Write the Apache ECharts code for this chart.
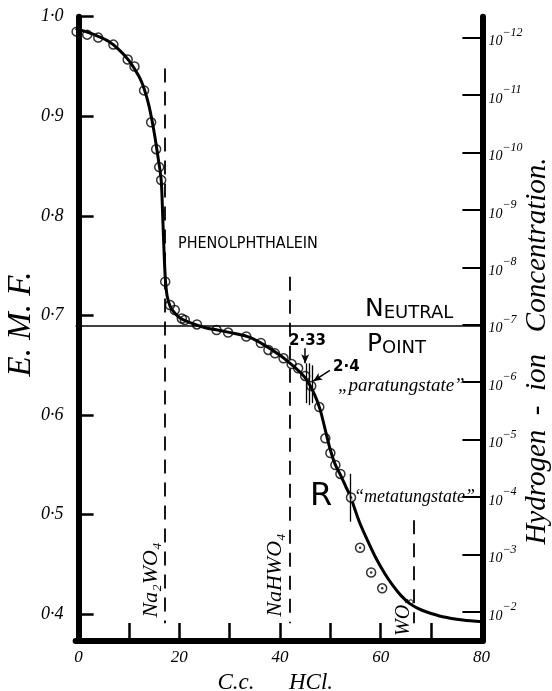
<!DOCTYPE html>
<html><head><meta charset="utf-8">
<script src="https://cdn.jsdelivr.net/npm/echarts@6/dist/echarts.min.js"></script>
<style>html,body{margin:0;padding:0;background:#fff}#c{width:552px;height:691px}</style>
</head><body><div id="c"></div>
<script>
// ---- data ----
const curveX = [-0.6, 2, 4, 6, 8, 10, 12, 13, 14, 15, 15.8, 16.4, 16.7, 17.0, 17.25, 17.6, 18.2, 19, 20, 22, 25, 28, 31, 34, 37, 40, 42, 44, 45.5, 47, 48, 49, 50, 51, 52, 53, 54, 55.75, 57.4, 59.1, 60.8, 62.4, 64, 65.7, 67.4, 69.0, 72.3, 76.3, 80.2];
const curveY = [0.988, 0.984, 0.980, 0.975, 0.967, 0.956, 0.940, 0.928, 0.910, 0.884, 0.858, 0.836, 0.800, 0.760, 0.735, 0.719, 0.709, 0.703, 0.698, 0.693, 0.688, 0.685, 0.682, 0.678, 0.670, 0.660, 0.652, 0.643, 0.634, 0.619, 0.605, 0.585, 0.565, 0.550, 0.540, 0.529, 0.518, 0.493, 0.474, 0.456, 0.441, 0.429, 0.419, 0.411, 0.406, 0.4026, 0.3976, 0.3943, 0.3926];
const obsX = [-0.4, 1.7, 3.9, 6.9, 9.75, 11.1, 13.0, 14.4, 15.4, 16.0, 16.4, 17.2, 18.15, 19.1, 20.5, 21.1, 23.5, 27.4, 29.7, 33.3, 36.2, 37.7, 39.0, 40.7, 42.3, 43.6, 45.0, 46.2, 47.8, 49.0, 50.0, 51.0, 52.0];
const obsY = [0.985, 0.982, 0.979, 0.972, 0.957, 0.950, 0.926, 0.894, 0.867, 0.849, 0.836, 0.734, 0.7105, 0.7055, 0.697, 0.6955, 0.691, 0.6854, 0.6829, 0.6789, 0.6724, 0.6654, 0.662, 0.657, 0.6513, 0.647, 0.6393, 0.6292, 0.6081, 0.5767, 0.5619, 0.5499, 0.5409];
const dotX = [54.1, 55.9, 58.1, 60.3];
const dotY = [0.5173, 0.4668, 0.442, 0.4261];
const xTickValues = [10, 20, 30, 40, 50, 60, 70];
const xLabelValues = [0, 20, 40, 60, 80];
const emfTicks = [0.4, 0.5, 0.6, 0.7, 0.8, 0.9, 1.0];
const hExponents = [2, 3, 4, 5, 6, 7, 8, 9, 10, 11, 12];
const dashedX = [17.2, 42.0, 66.5];
const dashedTop = [0.948, 0.739, 0.4945];
const dashedBottom = 0.391;
const neutralEMF = 0.690;
const markerX = [45.3, 45.9, 46.5, 53.9];
const markerTop = [0.652, 0.652, 0.650, 0.541];
const markerBottom = [0.612, 0.610, 0.612, 0.493];
const arrow233 = [[45.0, 0.667], [45.0, 0.652]];
const arrow24 = [[49.9, 0.645], [46.6, 0.634]];

// ---- build ----
const serifI = "italic 400 %spx 'Liberation Serif', 'DejaVu Serif', serif";
const fontI = n => serifI.replace('%s', n);
const zip = (a, b) => a.map((v, i) => [v, b[i]]);
const blk = '#000';

const markLines = [];
dashedX.forEach((x, i) => markLines.push([
  {coord: [x, dashedTop[i]], lineStyle: {type: [14, 9], width: 1.8, color: blk}},
  {coord: [x, dashedBottom]}
]));
markerX.forEach((x, i) => markLines.push([
  {coord: [x, markerTop[i]], lineStyle: {type: 'solid', width: 1.3, color: blk}},
  {coord: [x, markerBottom[i]]}
]));
[arrow233, arrow24].forEach(a => markLines.push([
  {coord: a[0], symbol: 'none', lineStyle: {type: 'solid', width: 1.5, color: blk}},
  {coord: a[1], symbol: 'arrow', symbolSize: [6, 9]}
]));

const chart = echarts.init(document.getElementById('c'), null, {renderer: 'canvas'});
chart.setOption({
  animation: false,
  backgroundColor: '#fff',
  grid: {left: 75.6, right: 69.6, top: 16.7, bottom: 50, containLabel: false},
  xAxis: {
    type: 'value', min: -0.6, max: 80.2,
    axisLine: {show: true, lineStyle: {color: blk, width: 6}},
    axisTick: {show: true, inside: true, length: 18, lineStyle: {color: blk, width: 2.5}, customValues: xTickValues},
    axisLabel: {show: true, customValues: xLabelValues, margin: 8, color: blk, fontStyle: 'italic', fontFamily: "'Liberation Serif', serif", fontSize: 17},
    splitLine: {show: false}
  },
  yAxis: [{
    type: 'value', min: 0.3732, max: 1.0,
    axisLine: {show: true, lineStyle: {color: blk, width: 6}},
    axisTick: {show: true, inside: true, length: 15, lineStyle: {color: blk, width: 2.5}, customValues: emfTicks},
    axisLabel: {show: true, customValues: emfTicks, margin: 12, color: blk, fontStyle: 'italic', fontFamily: "'Liberation Serif', serif", fontSize: 18,
      formatter: v => v.toFixed(1).replace('.', '\u00B7')},
    splitLine: {show: false}
  }, {
    type: 'value', position: 'right', min: 1.495, max: 12.362,
    axisLine: {show: true, lineStyle: {color: blk, width: 6}},
    axisTick: {show: true, inside: true, length: 20, lineStyle: {color: blk, width: 2}, customValues: hExponents},
    axisLabel: {show: true, customValues: hExponents, margin: 6, color: blk,
      formatter: v => '{b|10}{s|\u2212' + Math.round(v) + '}',
      rich: {
        b: {fontSize: 14, fontStyle: 'italic', fontFamily: "'Liberation Serif', serif", color: blk, lineHeight: 22, verticalAlign: 'bottom'},
        s: {fontSize: 12, fontStyle: 'italic', fontFamily: "'Liberation Serif', serif", color: blk, lineHeight: 22, verticalAlign: 'top'}
      }},
    splitLine: {show: false}
  }],
  series: [{
    type: 'line', name: 'curve', data: zip(curveX, curveY), smooth: 0.3,
    showSymbol: false, lineStyle: {color: blk, width: 3}, z: 3,
    markLine: {silent: true, symbol: ['none', 'none'], label: {show: false}, animation: false,
      lineStyle: {color: blk, width: 1.5, type: 'solid'},
      data: [[{coord: [-0.6, neutralEMF]}, {coord: [80.2, neutralEMF]}], ...markLines]}
  }, {
    type: 'scatter', name: 'observed', data: zip(obsX, obsY), symbol: 'circle', symbolSize: 9,
    itemStyle: {color: 'rgba(255,255,255,0)', borderColor: blk, borderWidth: 1.5}, z: 4
  }, {
    type: 'scatter', name: 'dotted', data: zip(dotX, dotY), symbol: 'circle', symbolSize: 9,
    itemStyle: {color: '#fff', borderColor: blk, borderWidth: 1.5}, z: 4
  }, {
    type: 'scatter', name: 'dotted-centre', data: zip(dotX, dotY), symbol: 'circle', symbolSize: 2.5,
    itemStyle: {color: blk}, z: 5
  }],
  graphic: [
    {type: 'text', x: 21, y: 324, rotation: Math.PI / 2, style: {text: 'E. M. F.', font: fontI(33), fill: blk, textAlign: 'center', textVerticalAlign: 'middle'}},
    {type: 'text', x: 537, y: 351, rotation: Math.PI / 2, style: {text: 'Hydrogen  -  ion   Concentration.', font: fontI(29), fill: blk, textAlign: 'center', textVerticalAlign: 'middle'}},
    {type: 'text', x: 236, y: 683, style: {text: 'C.c.', font: fontI(23), fill: blk, textAlign: 'center', textVerticalAlign: 'middle'}},
    {type: 'text', x: 311, y: 683, style: {text: 'HCl.', font: fontI(23), fill: blk, textAlign: 'center', textVerticalAlign: 'middle'}},
    {type: 'text', x: 178, y: 244, style: {text: 'PHENOLPHTHALEIN', font: "400 16px 'DejaVu Sans Condensed', 'DejaVu Sans', sans-serif", fill: blk, textAlign: 'left', textVerticalAlign: 'middle'}},
    {type: 'text', x: 365, y: 308, style: {text: '{a|N}{b|EUTRAL}', fill: blk, textAlign: 'left', textVerticalAlign: 'middle',
      rich: {a: {fontSize: 25, fontFamily: "'DejaVu Sans', sans-serif", verticalAlign: 'bottom', lineHeight: 28}, b: {fontSize: 18, fontFamily: "'DejaVu Sans', sans-serif", verticalAlign: 'bottom', lineHeight: 28}}}},
    {type: 'text', x: 367, y: 343, style: {text: '{a|P}{b|OINT}', fill: blk, textAlign: 'left', textVerticalAlign: 'middle',
      rich: {a: {fontSize: 25, fontFamily: "'DejaVu Sans', sans-serif", verticalAlign: 'bottom', lineHeight: 28}, b: {fontSize: 18, fontFamily: "'DejaVu Sans', sans-serif", verticalAlign: 'bottom', lineHeight: 28}}}},
    {type: 'text', x: 289, y: 341, style: {text: '2\u00B733', font: "bold 15px 'DejaVu Sans', sans-serif", fill: blk, textAlign: 'left', textVerticalAlign: 'middle'}},
    {type: 'text', x: 333, y: 367, style: {text: '2\u00B74', font: "bold 15px 'DejaVu Sans', sans-serif", fill: blk, textAlign: 'left', textVerticalAlign: 'middle'}},
    {type: 'text', x: 338, y: 386, style: {text: '\u201Eparatungstate\u201D', font: fontI(19), fill: blk, textAlign: 'left', textVerticalAlign: 'middle'}},
    {type: 'text', x: 321, y: 497, style: {text: 'R', font: "400 32px 'DejaVu Sans', sans-serif", fill: blk, textAlign: 'center', textVerticalAlign: 'middle'}},
    {type: 'text', x: 354, y: 497, style: {text: '\u201Cmetatungstate\u201D', font: fontI(18), fill: blk, textAlign: 'left', textVerticalAlign: 'middle'}},
    {type: 'text', x: 151, y: 580, rotation: Math.PI / 2, style: {text: 'Na\u2082WO\u2084', font: fontI(22), fill: blk, textAlign: 'center', textVerticalAlign: 'middle'}},
    {type: 'text', x: 275, y: 575, rotation: Math.PI / 2, style: {text: 'NaHWO\u2084', font: fontI(22), fill: blk, textAlign: 'center', textVerticalAlign: 'middle'}},
    {type: 'text', x: 404, y: 617, rotation: Math.PI / 2, style: {text: 'WO\u2083', font: fontI(20), fill: blk, textAlign: 'center', textVerticalAlign: 'middle'}}
  ]
});
</script></body></html>
